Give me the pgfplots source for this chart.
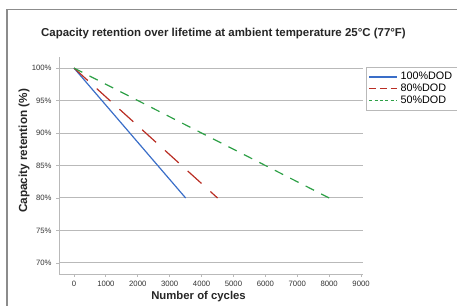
\documentclass[border=0pt]{standalone}
\usepackage{pgfplots}
\pgfplotsset{compat=1.18}
\usepackage{fontspec}
\setmainfont{Liberation Sans}
\definecolor{cblue}{RGB}{58,110,200}
\definecolor{cred}{RGB}{185,45,35}
\definecolor{cgreen}{RGB}{45,160,70}
\definecolor{gridgray}{RGB}{185,185,185}
\definecolor{framegray}{RGB}{140,140,140}
\begin{document}
\begin{tikzpicture}
\path[use as bounding box] (0,0) rectangle (342.75pt,228.75pt);
\draw[framegray, line width=0.8pt] (5.25pt,-2pt) -- (5.25pt,221.5pt) -- (346pt,221.5pt);
\node[font=\bfseries\fontsize{8.6}{9}\selectfont, text=black!85] at (167.6pt,203.25pt) {Capacity retention over lifetime at ambient temperature 25°C (77°F)};
\node[font=\bfseries\fontsize{8.8}{9}\selectfont, rotate=90, text=black!85] at (18pt,115.5pt) {Capacity retention (\%)};
\node[font=\bfseries\fontsize{8.5}{9}\selectfont, text=black!85] at (148.9pt,6pt) {Number of cycles};
\begin{axis}[
  at={(44.25pt,23.25pt)}, anchor=south west,
  scale only axis, width=228pt, height=162.75pt,
  xmin=-470, xmax=9060, ymin=68.3, ymax=101.7,
  axis x line*=bottom, axis y line*=left,
  axis line style={gridgray, line width=0.75pt, -},
  xtick={0,1000,...,9000}, ytick={70,75,...,100},
  yticklabel={\pgfmathprintnumber{\tick}\%},
  /pgf/number format/assume math mode=true,
  /pgf/number format/1000 sep={},
  ticklabel style={font=\fontsize{5.8}{6}\selectfont, text=black!80},
  tick style={gridgray, line width=0.6pt},
  major tick length=2pt,
  tick align=outside,
  ymajorgrids, grid style={gridgray, line width=0.75pt},
  clip=false,
  legend style={at={(1.0099,0.954)}, anchor=north west, draw=gridgray,
    font=\fontsize{8.1}{8.4}\selectfont, row sep=-2.3pt, inner sep=1.8pt},
  legend cell align=left,
  legend image code/.code={\draw[#1] (0pt,0pt) -- (21pt,0pt);},
]
\addplot[cblue, line width=0.9pt] coordinates {(0,100) (3500,80)};
\addlegendentry{100\%DOD}
\addplot[cred, line width=0.9pt, dash pattern=on 14pt off 9pt,
  legend image post style={dash pattern=on 5pt off 3pt}] coordinates {(0,100) (4500,80)};
\addlegendentry{80\%DOD}
\addplot[cgreen, line width=0.9pt, dash pattern=on 7pt off 6pt,
  legend image post style={dash pattern=on 2.4pt off 1.6pt}] coordinates {(0,100) (8000,80)};
\addlegendentry{50\%DOD}
\end{axis}
\end{tikzpicture}
\end{document}
